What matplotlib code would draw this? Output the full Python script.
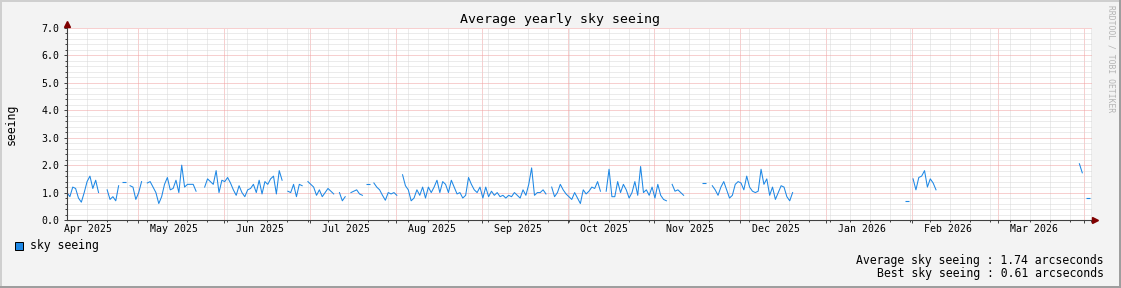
import numpy as np
import matplotlib
matplotlib.use("Agg")
import matplotlib.pyplot as plt
from matplotlib.patches import Rectangle
from matplotlib.lines import Line2D

plt.rcParams["font.family"] = ["DejaVu Sans Mono"]

# daily sky seeing (arcsec), None = no data; one list per ~30 day block
n = None
s01 = [1.0, 0.85, 1.2, 1.15, 0.8, 0.65, 1.0, 1.4, 1.6, 1.15, 1.45, 1.0, n, n, 1.1,
       0.75, 0.85, 0.7, 1.25, n, 1.4, n, 1.25, 1.2, 0.75, 1.0, 1.4, n, 1.35, 1.4]
s02 = [1.2, 1.0, 0.6, 0.85, 1.3, 1.55, 1.1, 1.15, 1.45, 1.0, 2.0, 1.2, 1.3, 1.3, 1.3,
       1.05, n, n, 1.2, 1.5, 1.4, 1.3, 1.8, 1.0, 1.45, 1.4, 1.55, 1.35, 1.1, 0.9]
s03 = [1.25, 1.0, 0.85, 1.1, 1.15, 1.3, 1.0, 1.45, 0.95, 1.4, 1.3, 1.5, 1.6, 0.95, 1.8,
       1.45, n, 1.05, 1.0, 1.3, 0.85, 1.3, 1.25, n, 1.4, 1.3, 1.2, 0.9, 1.1, 0.85]
s04 = [1.0, 1.15, 1.05, 0.95, n, 1.0, 0.7, 0.85, n, 1.0, 1.05, 1.1, 0.95, 0.9, n,
       1.3, n, 1.35, 1.2, 1.1, 0.9, 0.72, 1.0, 0.95, 1.0, 0.9, n, 1.65, 1.25, 1.1]
s05 = [0.7, 0.8, 1.1, 0.9, 1.2, 0.8, 1.2, 1.0, 1.2, 1.45, 1.0, 1.4, 1.3, 1.0, 1.45,
       1.2, 0.95, 1.0, 0.8, 0.9, 1.55, 1.3, 1.1, 1.0, 1.2, 0.8, 1.2, 0.85, 1.05, 0.9]
s06 = [1.0, 0.85, 0.9, 0.8, 0.9, 0.85, 1.0, 0.9, 0.8, 1.1, 0.9, 1.3, 1.9, 0.9, 1.0,
       1.0, 1.1, 0.95, n, 1.2, 0.85, 1.0, 1.3, 1.1, 0.95, 0.85, 0.75, 1.0, 0.8, 0.6]
s07 = [1.1, 0.95, 1.05, 1.2, 1.15, 1.4, 1.05, n, 1.05, 1.85, 0.85, 0.85, 1.4, 1.0, 1.3,
       1.1, 0.8, 1.0, 1.4, 0.9, 1.95, 1.0, 1.1, 0.9, 1.2, 0.8, 1.3, 0.9, 0.75, 0.7]
s08 = [n, 1.3, 1.05, 1.1, 1.0, 0.9, n, n, n, n, n, n, 1.35, n, n,
       1.25, 1.1, 0.9, 1.2, 1.4, 1.1, 0.8, 0.9, 1.3, 1.4, 1.35, 1.1, 1.6, 1.2, 1.05]
s09 = [1.0, 1.05, 1.85, 1.3, 1.5, 0.9, 1.2, 0.75, 1.0, 1.25, 1.2, 0.85, 0.7, 1.0] + [n] * 16
s10 = [n] * 23 + [0.68, n, 1.5, 1.1, 1.55, 1.6, 1.8]
s11 = [1.2, 1.5, 1.35, 1.1] + [n] * 26
s12 = [n] * 23 + [2.05, 1.72, n, 0.8, n]

seeing = np.array(s01 + s02 + s03 + s04 + s05 + s06 + s07 + s08 + s09 + s10 + s11 + s12, dtype=float)
days = np.arange(len(seeing))

month_labels = ["Apr 2025", "May 2025", "Jun 2025", "Jul 2025", "Aug 2025", "Sep 2025",
                "Oct 2025", "Nov 2025", "Dec 2025", "Jan 2026", "Feb 2026", "Mar 2026"]

avg_seeing = 1.74
best_seeing = 0.61

# layout (pixels)
W, H = 1121, 288
px_day = 2.868
x0, x1, ytop, ybot = 67, 1092, 28, 220
line_col = "#1e88e5"

fig = plt.figure(figsize=(W / 100, H / 100), dpi=100, facecolor="#f3f3f3")
ax = fig.add_axes([x0 / W, (H - ybot) / H, (x1 - x0) / W, (ybot - ytop) / H])
ax.set_facecolor("white")

ax.plot(days, seeing, color=line_col, lw=0.75, zorder=3)
# days with no neighbour on either side show up as a short dash
ok = ~np.isnan(seeing)
prev_ok = np.r_[False, ok[:-1]]
next_ok = np.r_[ok[1:], False]
lone = ok & ~prev_ok & ~next_ok
ax.plot(days[lone], seeing[lone], ls="none", marker="_", ms=2.5, mew=0.8, color=line_col, zorder=3)

ax.set_xlim(0, (x1 - x0) / px_day)
ax.set_ylim(0, 7)

# grid: weekly minor, 30-day major in x; 0.2 / 1.0 in y
ax.set_xticks(np.arange(6.87, 358, 7), minor=True)
ax.set_xticks(np.arange(24.65, 358, 30))
ax.set_xticklabels([])
ax.set_yticks(np.arange(0, 7.01, 1))
ax.set_yticks(np.arange(0, 7.01, 0.2), minor=True)
ax.set_yticklabels([f"{v:.1f}" for v in np.arange(0, 7.01, 1)])
ax.grid(which="minor", color="#d8d8d8", lw=0.72, linestyle=(0, (1, 1)))
ax.grid(which="major", color="#f0a0a0", lw=0.72, linestyle=(0, (1, 1)))
ax.set_axisbelow(True)
ax.tick_params(which="major", direction="out", length=2.2, width=0.7, color="#404040",
               labelsize=7.1, pad=3)
ax.tick_params(which="minor", direction="out", length=1.5, width=0.7, color="#404040")

for side in ["top", "right", "left", "bottom"]:
    ax.spines[side].set_visible(False)
ax.plot([0, 1.0], [0, 0], color="#404040", lw=0.8, transform=ax.transAxes, clip_on=False, zorder=4)
ax.plot([0, 0], [0, 1.02], color="#404040", lw=0.8, transform=ax.transAxes, clip_on=False, zorder=4)
ax.plot([1.0034], [0], marker=">", ms=4.5, color="#800000", mec="#800000",
        transform=ax.transAxes, clip_on=False, zorder=5)
ax.plot([0], [1.021], marker="^", ms=4.5, color="#800000", mec="#800000",
        transform=ax.transAxes, clip_on=False, zorder=5)

for i, lab in enumerate(month_labels):
    ax.text(7.3 + 30 * i, -9.5 / (ybot - ytop), lab, transform=ax.get_xaxis_transform(),
            ha="center", va="center", fontsize=7.1)

fig.text(560 / W, 1 - 19 / H, "Average yearly sky seeing", ha="center", va="center", fontsize=9.5)
fig.text(11 / W, 1 - 124 / H, "seeing", rotation=90, ha="center", va="center", fontsize=8.3)
fig.text(1111 / W, 1 - 59 / H, "RRDTOOL / TOBI OETIKER", rotation=270, ha="center", va="center",
         fontsize=5.8, color="#b4b4b4")

fig.add_artist(Rectangle((15 / W, 1 - 250 / H), 8 / W, 8 / H, transform=fig.transFigure,
                         facecolor=line_col, edgecolor="black", lw=0.72))
fig.text(30 / W, 1 - 246 / H, "sky seeing", ha="left", va="center", fontsize=8.3)
fig.text(1104 / W, 1 - 260.5 / H, f"Average sky seeing : {avg_seeing:.2f} arcseconds",
         ha="right", va="center", fontsize=8.3)
fig.text(1104 / W, 1 - 274 / H, f"Best sky seeing : {best_seeing:.2f} arcseconds",
         ha="right", va="center", fontsize=8.3)

# bevelled border
fig.add_artist(Line2D([0, 1], [1 - 1 / H] * 2, transform=fig.transFigure, color="#cfcfcf", lw=1.44))
fig.add_artist(Line2D([1 / W] * 2, [0, 1], transform=fig.transFigure, color="#cfcfcf", lw=1.44))
fig.add_artist(Line2D([0, 1], [1 / H] * 2, transform=fig.transFigure, color="#9e9e9e", lw=1.44))
fig.add_artist(Line2D([1 - 1 / W] * 2, [0, 1], transform=fig.transFigure, color="#9e9e9e", lw=1.44))

fig.savefig("out.png", dpi=100, facecolor=fig.get_facecolor())
